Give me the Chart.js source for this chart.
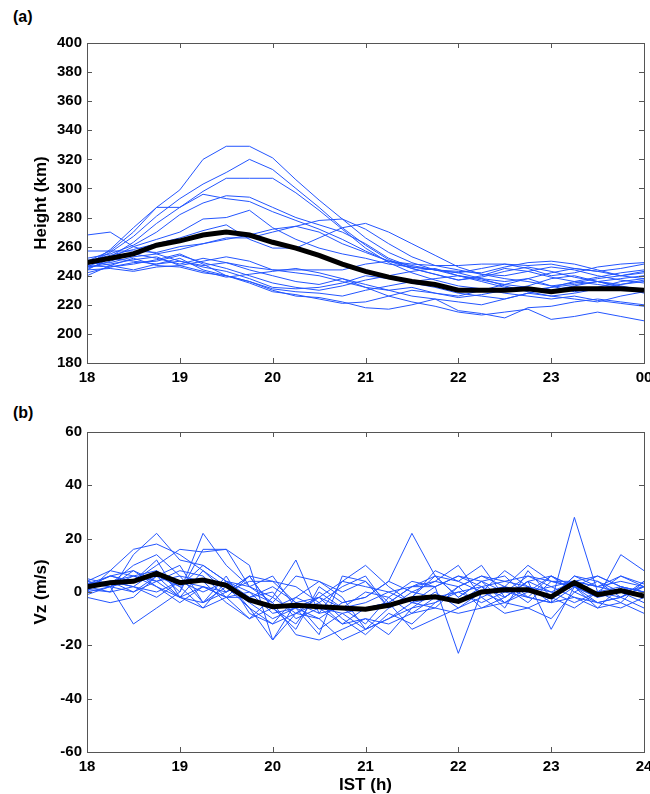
<!DOCTYPE html>
<html>
<head>
<meta charset="utf-8">
<script src="https://cdn.jsdelivr.net/npm/chart.js@4/dist/chart.umd.min.js"></script>
<style>
  html, body { margin: 0; padding: 0; background: #fff; width: 650px; height: 794px; overflow: hidden; }
  .panel { position: absolute; left: 0; }
  .tag { position: absolute; left: 13px; font: bold 16px Arial, "Liberation Sans", sans-serif; color: #000; }
</style>
</head>
<body>
<div class="tag" style="top:8px">(a)</div>
<div class="tag" style="top:404px">(b)</div>
<canvas id="chartA" class="panel" style="top:0" width="660" height="395"></canvas>
<canvas id="chartB" class="panel" style="top:395px" width="660" height="405"></canvas>
<script>
// time of day, 15 min steps (IST, h)
const times = [18, 18.25, 18.5, 18.75, 19, 19.25, 19.5, 19.75, 20, 20.25, 20.5, 20.75,
  21, 21.25, 21.5, 21.75, 22, 22.25, 22.5, 22.75, 23, 23.25, 23.5, 23.75, 24];

const tickLabelsA = ["18", "19", "20", "21", "22", "23", "00"];
const tickLabelsB = ["18", "19", "20", "21", "22", "23", "24"];

// (a) height of the layer, km - one row per night
const heightNights = [
  [250,257,270,287,299,320,329,329,321,306,292,279,266,256,249,244,240,237,234,232,230,233,236,238,240],
  [248,256,267,281,293,303,311,320,313,300,287,273,261,251,245,241,237,240,245,243,239,236,234,232,231],
  [246,253,263,276,287,298,307,307,307,297,285,272,259,249,242,237,233,231,228,226,224,226,223,221,219],
  [247,258,273,287,287,296,293,291,284,278,272,265,257,250,245,241,237,239,243,246,243,239,236,234,237],
  [252,255,261,270,282,290,295,294,287,280,275,270,262,252,246,244,242,245,248,245,240,242,246,248,249],
  [244,252,260,265,270,279,280,285,273,265,259,255,252,248,246,244,242,238,236,238,242,245,243,240,238],
  [250,254,258,262,266,271,275,265,259,259,266,273,276,270,262,254,246,241,238,236,233,235,238,240,242],
  [268,270,260,255,258,262,265,268,272,274,278,279,272,262,253,247,244,241,240,243,246,244,240,237,235],
  [257,257,257,256,260,262,266,266,270,274,270,262,256,250,248,247,247,248,248,247,248,245,243,245,248],
  [246,248,251,253,247,250,253,250,244,242,240,236,232,230,232,228,226,230,234,238,233,229,232,236,238],
  [248,249,253,255,250,246,243,238,232,231,232,235,240,238,235,232,228,226,224,228,232,236,239,242,244],
  [245,250,255,252,248,252,249,244,240,236,234,238,234,230,226,224,222,220,224,228,226,224,222,226,229],
  [242,246,249,250,254,249,245,240,235,232,230,233,237,240,243,245,240,236,232,230,232,234,236,232,228],
  [251,247,244,248,252,244,240,236,231,229,228,226,230,233,236,238,240,238,233,229,226,228,231,234,236],
  [247,246,248,251,255,248,240,236,230,226,225,222,218,217,220,224,216,214,211,218,219,222,224,222,220],
  [240,247,252,247,246,242,240,235,229,227,224,221,222,226,230,228,225,227,230,233,238,240,236,233,230],
  [249,252,250,248,250,247,249,246,244,244,244,244,248,250,247,244,243,242,246,249,250,248,244,240,243],
  [244,245,243,246,247,243,239,241,243,245,242,238,232,226,222,219,215,213,215,217,210,212,215,212,209]
];
const heightMean = [249,252,255,261,264,268,270,268,263,259,254,248,243,239,236,234,230,230,230,231,229,231,231,231,230];

// (b) vertical drift, m/s - one row per night
const vzNights = [
  [4,8,16,18,14,8,2,-4,-10,-6,-2,4,2,0,-4,-6,2,6,4,2,0,4,2,6,3],
  [2,0,14,22,12,10,4,-6,-18,-8,-10,-4,-2,4,22,6,-2,4,6,-2,-4,28,0,2,-2],
  [0,2,-12,-6,0,22,10,2,-2,12,-8,4,10,2,-4,2,-23,0,8,2,-4,2,-6,2,0],
  [3,6,4,10,16,15,16,10,-18,-4,-14,-8,-14,-6,-2,8,4,10,-2,4,6,2,-2,14,8],
  [5,3,10,14,6,4,-4,-10,-6,-2,4,0,4,-4,2,2,6,2,4,6,2,4,2,4,2],
  [-2,-4,-2,6,2,-6,4,2,6,-6,-10,-18,-14,-10,-6,-4,0,2,-2,4,-14,2,-4,-2,-6],
  [1,4,0,4,8,6,-2,0,-4,-16,-18,-14,-10,-12,-8,-2,-4,0,-4,0,2,-2,-6,-4,-8],
  [2,6,8,2,-2,-4,2,-6,-12,-8,-2,-10,-16,-8,-12,-4,2,-6,-2,4,0,-4,0,-2,4],
  [3,2,4,6,10,-4,0,6,4,2,-4,-12,-10,-16,-6,0,-6,0,2,-4,4,2,-2,0,-2],
  [0,8,6,2,-4,2,-2,-10,-2,-8,-4,2,6,-6,0,-2,-4,2,-6,8,-2,6,4,-2,2],
  [4,2,0,6,-2,-6,-2,6,-6,-14,2,-4,-2,4,0,4,10,-2,2,0,6,0,4,0,-4],
  [2,4,6,8,2,10,4,0,-8,-6,-16,6,4,-6,-2,6,-2,4,-4,2,-2,6,2,0,2],
  [1,0,2,0,4,0,4,-2,0,-10,-6,-12,-6,-4,2,4,2,6,2,10,4,4,6,2,0],
  [3,4,2,8,0,16,16,2,-4,6,4,-2,-14,-10,-4,-2,0,-4,0,-2,-4,-2,-4,-2,2],
  [-1,2,8,4,6,-4,6,-8,-12,-2,-6,-8,-6,-4,-14,-10,-6,-2,-8,-6,-10,0,-4,-6,-2],
  [2,6,4,12,-2,2,-2,-2,2,-4,-2,-6,-4,0,2,6,4,0,2,-2,6,2,0,-4,4],
  [4,2,6,4,-2,8,0,4,4,-4,-8,-6,0,-2,-8,-6,-8,-6,-4,-6,-2,-6,0,6,2],
  [2,4,2,-2,4,2,0,6,-6,-12,0,-6,-12,-2,4,2,6,4,0,6,4,2,6,2,0]
];
const vzMean = [2,3.5,4,7,3.5,4.5,2.5,-3,-5.5,-5,-5.5,-6,-6.5,-5,-2.5,-1.8,-3.5,0,0.8,0.8,-1.8,3.5,-1,0.5,-1.5];

const FONT = "Arial, 'Liberation Sans', sans-serif";
const BLUE = "rgb(35,85,255)";
const AXIS = "#555";

const toPoints = (arr) => arr.map((v, i) => ({ x: times[i], y: v }));

// mean first so it is painted on top
const buildDatasets = (nights, mean) => [
  { data: toPoints(mean), borderColor: "#000", borderWidth: 5, pointRadius: 0 },
  ...nights.map((n) => ({ data: toPoints(n), borderColor: BLUE, borderWidth: 1, pointRadius: 0 })),
];

// matlab style box with inward ticks
const boxTicks = {
  id: "boxTicks",
  afterDraw(chart) {
    const { ctx, chartArea: a, scales } = chart;
    const len = 5;
    ctx.save();
    ctx.strokeStyle = AXIS;
    ctx.lineWidth = 1;
    ctx.strokeRect(a.left + 0.5, a.top + 0.5, a.right - a.left, a.bottom - a.top);
    ctx.beginPath();
    scales.x.ticks.forEach((t) => {
      const px = Math.round(scales.x.getPixelForValue(t.value)) + 0.5;
      ctx.moveTo(px, a.bottom); ctx.lineTo(px, a.bottom - len);
      ctx.moveTo(px, a.top); ctx.lineTo(px, a.top + len);
    });
    scales.y.ticks.forEach((t) => {
      const py = Math.round(scales.y.getPixelForValue(t.value)) + 0.5;
      ctx.moveTo(a.left, py); ctx.lineTo(a.left + len, py);
      ctx.moveTo(a.right, py); ctx.lineTo(a.right - len, py);
    });
    ctx.stroke();
    ctx.restore();
  },
};

function makePanel(id, nights, mean, yMin, yMax, yTitle, xLabels, xTitle, top, xHeight) {
  const ctx = document.getElementById(id).getContext("2d");
  return new Chart(ctx, {
    type: "line",
    data: { datasets: buildDatasets(nights, mean) },
    options: {
      responsive: false,
      animation: false,
      layout: { padding: { left: 27, top: top, right: 16, bottom: 0 } },
      plugins: { legend: { display: false }, tooltip: { enabled: false } },
      elements: { line: { tension: 0 } },
      scales: {
        x: {
          type: "linear", min: 18, max: 24,
          grid: { display: false, drawTicks: false },
          border: { display: false },
          ticks: {
            stepSize: 1, padding: 6, color: "#000", maxRotation: 0,
            font: { family: FONT, size: 15, weight: "bold" },
            callback: (v) => xLabels[v - 18],
          },
          title: {
            display: !!xTitle, text: xTitle, color: "#000",
            font: { family: FONT, size: 17, weight: "bold" },
            padding: { top: 0, bottom: 4 },
          },
          afterFit: (s) => { s.height = xHeight; },
        },
        y: {
          min: yMin, max: yMax,
          grid: { display: false, drawTicks: false },
          border: { display: false },
          ticks: {
            stepSize: 20, padding: 5, color: "#000",
            font: { family: FONT, size: 15, weight: "bold" },
          },
          title: {
            display: true, text: yTitle, color: "#000",
            font: { family: FONT, size: 17, weight: "bold" },
            padding: { top: 4, bottom: 0 },
          },
          afterFit: (s) => { s.width = 60; },
        },
      },
    },
    plugins: [boxTicks],
  });
}

makePanel("chartA", heightNights, heightMean, 180, 400, "Height (km)", tickLabelsA, "", 43, 32);
makePanel("chartB", vzNights, vzMean, -60, 60, "Vz (m/s)", tickLabelsB, "IST (h)", 37, 48);
</script>
</body>
</html>
